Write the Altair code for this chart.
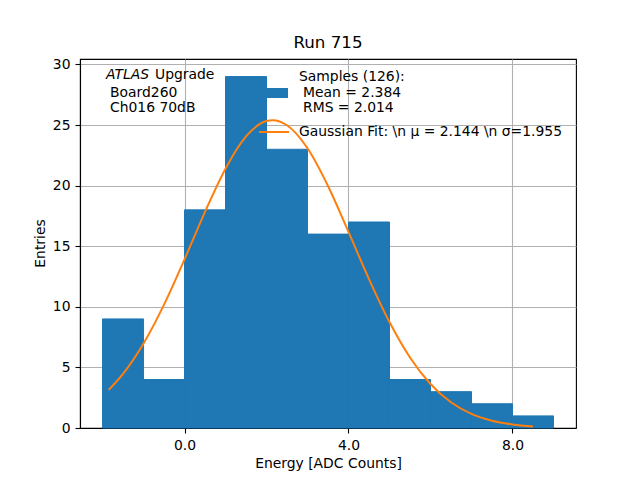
import altair as alt
import pandas as pd

# Histogram data (bin edges, counts)
bin_lo = [-2, -1, 0, 1, 2, 3, 4, 5, 6, 7, 8]
bin_hi = [-1, 0, 1, 2, 3, 4, 5, 6, 7, 8, 9]
counts = [9, 4, 18, 29, 23, 16, 17, 4, 3, 2, 1]

# Gaussian fit curve
fit_x = [-1.85, -1.5, -1.0, -0.5, 0.0, 0.5, 1.0, 1.5, 2.0, 2.15, 2.5, 3.0, 3.5,
         4.0, 4.5, 5.0, 5.5, 6.0, 6.5, 7.0, 7.5, 8.0, 8.5]
fit_y = [3.15, 4.47, 6.97, 10.18, 13.92, 17.84, 21.40, 24.06, 25.33, 25.40, 24.98,
         23.08, 19.97, 16.18, 12.29, 8.74, 5.82, 3.63, 2.12, 1.16, 0.60, 0.29, 0.13]

x_ticks = [0, 4, 8]
y_ticks = [0, 5, 10, 15, 20, 25, 30]

title_text = "Run 715"
x_title = "Energy [ADC Counts]"
y_title = "Entries"
atlas_lines = ["ATLAS", "Upgrade", "Board260", "Ch016 70dB"]
legend_lines = ["Samples (126):", "Mean = 2.384", "RMS = 2.014",
                "Gaussian Fit: \\n \u03bc = 2.144 \\n \u03c3=1.955"]

FONT = "DejaVu Sans"
FS = 13.9
BLUE = "#1f77b4"
ORANGE = "#ff7f0e"

hist = pd.DataFrame({"lo": bin_lo, "hi": bin_hi, "n": counts})
fit = pd.DataFrame({"x": fit_x, "y": fit_y})
one = pd.DataFrame({"a": [0]})

xs = alt.Scale(domain=[-2.55, 9.55], nice=False, zero=False, padding=0)
ys = alt.Scale(domain=[0, 30.45], nice=False, zero=False, padding=0)

xaxis = alt.Axis(values=x_ticks, format=".1f", title=x_title,
                 titleBaseline="alphabetic", titleY=39.5, titleX=248,
                 labelPadding=5)
yaxis = alt.Axis(values=y_ticks, title=y_title, titleBaseline="alphabetic",
                 titleX=-36, titleY=184, titleAngle=-90, labelPadding=5)

bars = alt.Chart(hist).mark_bar(color=BLUE, stroke=BLUE, strokeWidth=1,
                                orient="vertical").encode(
    x=alt.X("lo:Q", scale=xs, axis=xaxis),
    x2="hi:Q",
    y=alt.Y("n:Q", scale=ys, axis=yaxis),
    y2=alt.datum(0),
)

line = alt.Chart(fit).mark_line(color=ORANGE, strokeWidth=2,
                                interpolate="monotone").encode(
    x=alt.X("x:Q", scale=xs),
    y=alt.Y("y:Q", scale=ys),
)


def txt(s, x, y, italic=False):
    kw = dict(align="left", baseline="alphabetic", font=FONT, fontSize=FS,
              color="black")
    if italic:
        kw["fontStyle"] = "italic"
    return alt.Chart(one).mark_text(**kw).encode(
        x=alt.value(x), y=alt.value(y), text=alt.value(s))


texts = [
    txt(atlas_lines[0], 26, 20, italic=True),
    txt(atlas_lines[1], 75, 20),
    txt(atlas_lines[2], 30, 38),
    txt(atlas_lines[3], 30, 53),
    txt(legend_lines[0], 219, 22),
    txt(legend_lines[1], 223, 38),
    txt(legend_lines[2], 223, 53),
    txt(legend_lines[3], 219, 77),
]

patch = alt.Chart(one).mark_rect(color=BLUE).encode(
    x=alt.value(187), x2=alt.value(208), y=alt.value(29), y2=alt.value(39))
leg_line = alt.Chart(one).mark_rule(color=ORANGE, strokeWidth=2).encode(
    x=alt.value(179), x2=alt.value(209), y=alt.value(73))

chart = alt.layer(bars, line, patch, leg_line, *texts).properties(
    width=496, height=369,
    title=alt.TitleParams(title_text, font=FONT, fontSize=16.7,
                          fontWeight="normal", color="black", offset=6),
    autosize=alt.AutoSizeParams(type="none"),
    padding={"left": 72, "top": 51, "right": 56, "bottom": 44},
).configure_view(
    stroke="black", strokeWidth=1.1
).configure_axis(
    labelFont=FONT, labelFontSize=FS, labelColor="black",
    titleFont=FONT, titleFontSize=FS, titleColor="black", titleFontWeight="normal",
    tickColor="black", tickSize=5, tickWidth=1.1,
    domainColor="black", domainWidth=1.1,
    grid=True, gridColor="#b0b0b0", gridWidth=1.1, zindex=1,
)

chart.save("out.html", embed_options={"renderer": "svg", "actions": False})
